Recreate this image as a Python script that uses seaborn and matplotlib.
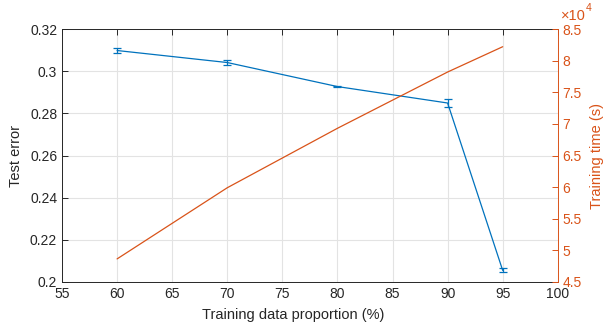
import matplotlib
matplotlib.use("Agg")
import matplotlib.pyplot as plt
import seaborn as sns
import numpy as np
from matplotlib.ticker import FuncFormatter, MultipleLocator

sns.set_style("white")
plt.rcParams['font.family'] = ['Liberation Sans', 'DejaVu Sans']

proportion = [60, 70, 80, 90, 95]
test_error = [0.3098, 0.3041, 0.2927, 0.2849, 0.2055]
error_sd = [0.0011, 0.0012, 0.0004, 0.0017, 0.0009]
train_time = [48650, 59900, 69300, 78200, 82200]

blue = "#0072BD"
orange = "#D95319"

fig = plt.figure(figsize=(6.03, 3.26), dpi=100)
ax = fig.add_axes([0.1028, 0.135, 0.8222, 0.776])

sns.lineplot(x=proportion, y=test_error, ax=ax, color=blue, linewidth=0.9)
ax.errorbar(proportion, test_error, yerr=error_sd, fmt='none', ecolor=blue,
            elinewidth=0.9, capsize=3.2, capthick=0.9)
ax.set_xlim(55, 100)
ax.set_ylim(0.2, 0.32)
ax.xaxis.set_major_locator(MultipleLocator(5))
ax.yaxis.set_major_locator(MultipleLocator(0.02))
ax.yaxis.set_major_formatter(FuncFormatter(lambda v, p: "%g" % round(v, 3)))
ax.grid(True, color="#e3e3e3", linewidth=0.8)
ax.set_axisbelow(True)
ax.tick_params(axis='both', direction='in', length=4, width=0.7, labelsize=10,
               colors="#262626", top=True, right=False)
ax.set_xlabel("Training data proportion (%)", fontsize=10.5, color="#262626")
ax.xaxis.set_label_coords(0.466, -0.102)
ax.set_ylabel("Test error", fontsize=10.5, color="#262626", labelpad=5)
for s in ['left', 'bottom', 'top']:
    ax.spines[s].set_color("#262626")
    ax.spines[s].set_linewidth(0.7)
ax.spines['right'].set_visible(False)

ax2 = ax.twinx()
sns.lineplot(x=proportion, y=train_time, ax=ax2, color=orange, linewidth=0.9)
ax2.set_ylim(45000, 85000)
ax2.yaxis.set_major_locator(MultipleLocator(5000))
ax2.yaxis.set_major_formatter(FuncFormatter(lambda v, p: "%g" % (v / 1e4)))
ax2.tick_params(axis='y', direction='in', length=4, width=0.7, labelsize=10,
                colors=orange, right=True, left=False)
ax2.set_ylabel("Training time (s)", fontsize=10.5, color=orange, labelpad=5.5)
for s in ['left', 'bottom', 'top']:
    ax2.spines[s].set_visible(False)
ax2.spines['right'].set_color(orange)
ax2.spines['right'].set_linewidth(0.7)
ax2.text(1.006, 1.025, "×10", transform=ax2.transAxes, color=orange,
         fontsize=10.5, ha='left', va='bottom')
ax2.text(1.056, 1.062, "4", transform=ax2.transAxes, color=orange,
         fontsize=7.5, ha='left', va='bottom')

fig.savefig("out.png", dpi=100)
